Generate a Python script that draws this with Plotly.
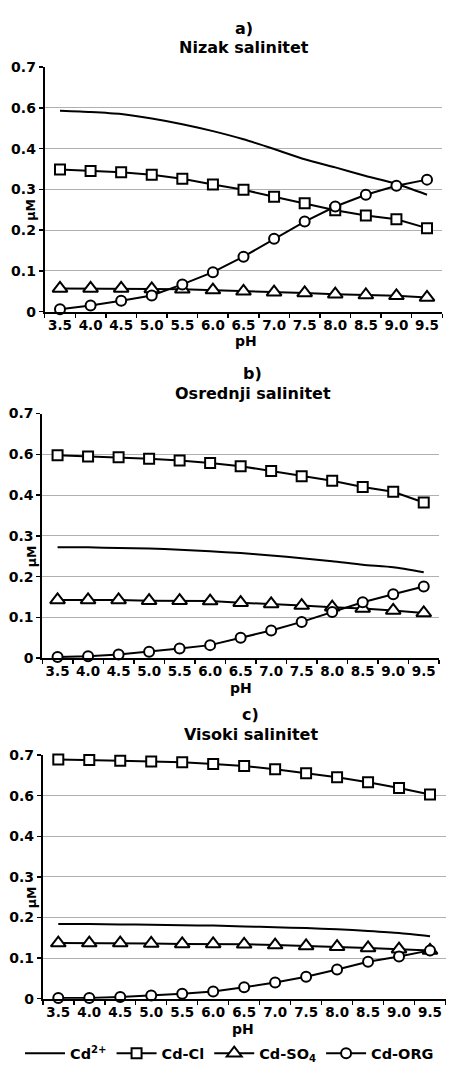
import numpy as np
import plotly.graph_objects as go

# ---------------- data ----------------
pH = [3.5, 4.0, 4.5, 5.0, 5.5, 6.0, 6.5, 7.0, 7.5, 8.0, 8.5, 9.0, 9.5]

# y-axis tick labels as printed (evenly spaced gridlines, no 0.5)
y_tick_labels = [0, 0.1, 0.2, 0.3, 0.4, 0.6, 0.7]
y_tick_text = ["0", "0.1", "0.2", "0.3", "0.4", "0.6", "0.7"]

series_names = ["Cd<sup>2+</sup>", "Cd-Cl", "Cd-SO<sub>4</sub>", "Cd-ORG"]
panel_titles = ["a)", "b)", "c)"]
panel_subtitles = ["Nizak salinitet", "Osrednji salinitet", "Visoki salinitet"]

a_cd2 = [0.586, 0.580, 0.570, 0.548, 0.520, 0.486, 0.446, 0.399, 0.374, 0.354, 0.333, 0.314, 0.287]
a_cdcl = [0.349, 0.345, 0.342, 0.336, 0.326, 0.312, 0.299, 0.282, 0.266, 0.249, 0.236, 0.227, 0.205]
a_cdso4 = [0.057, 0.057, 0.057, 0.056, 0.055, 0.053, 0.050, 0.048, 0.046, 0.043, 0.041, 0.039, 0.035]
a_cdorg = [0.006, 0.015, 0.027, 0.040, 0.067, 0.097, 0.135, 0.179, 0.221, 0.258, 0.287, 0.309, 0.324]

b_cd2 = [0.272, 0.272, 0.270, 0.269, 0.266, 0.262, 0.258, 0.252, 0.245, 0.238, 0.229, 0.223, 0.211]
b_cdcl = [0.595, 0.590, 0.586, 0.578, 0.570, 0.558, 0.542, 0.518, 0.492, 0.470, 0.440, 0.416, 0.382]
b_cdso4 = [0.143, 0.143, 0.143, 0.141, 0.141, 0.140, 0.136, 0.133, 0.129, 0.125, 0.122, 0.117, 0.111]
b_cdorg = [0.003, 0.005, 0.009, 0.016, 0.024, 0.032, 0.050, 0.068, 0.089, 0.113, 0.137, 0.157, 0.176]

c_cd2 = [0.184, 0.184, 0.183, 0.182, 0.181, 0.180, 0.178, 0.176, 0.174, 0.171, 0.167, 0.162, 0.154]
c_cdcl = [0.689, 0.688, 0.686, 0.684, 0.682, 0.678, 0.673, 0.665, 0.655, 0.645, 0.633, 0.619, 0.603]
c_cdso4 = [0.137, 0.137, 0.137, 0.136, 0.135, 0.135, 0.134, 0.132, 0.130, 0.128, 0.125, 0.122, 0.119]
c_cdorg = [0.002, 0.002, 0.004, 0.008, 0.012, 0.018, 0.028, 0.040, 0.054, 0.072, 0.091, 0.104, 0.119]

panels = [
    [a_cd2, a_cdcl, a_cdso4, a_cdorg],
    [b_cd2, b_cdcl, b_cdso4, b_cdorg],
    [c_cd2, c_cdcl, c_cdso4, c_cdorg],
]

# ---------------- layout geometry ----------------
W, H = 450, 1075
FONT = "DejaVu Sans"
tick_pos = list(range(len(y_tick_labels)))


def to_axis(vals):
    # the printed axis has evenly spaced gridlines labelled 0..0.4, 0.6, 0.7
    return np.interp(vals, y_tick_labels, tick_pos)


def py(px):
    return 1 - px / H


# pixel geometry of each plot area: (left, right, top, bottom)
areas = [
    (44.7, 442.3, 60.0, 308.3),
    (42.3, 439.0, 411.7, 660.0),
    (42.8, 445.5, 758.3, 1005.7),
]
title_pos = [  # (x center, y of "a)", y of subtitle)
    (244.0, 20.5, 40.0),
    (252.5, 371.0, 391.0),
    (250.8, 717.5, 737.5),
]
ph_pos = [(246.0, 338.0), (241.0, 690.0), (242.5, 1036.0)]

styles = [
    dict(mode="lines", line=dict(color="black", width=2, shape="spline", smoothing=0.6)),
    dict(mode="lines+markers", line=dict(color="black", width=2),
         marker=dict(symbol="square", size=10, color="white", line=dict(color="black", width=2))),
    dict(mode="lines+markers", line=dict(color="black", width=2),
         marker=dict(symbol="triangle-up", size=13, color="white", line=dict(color="black", width=2))),
    dict(mode="lines+markers", line=dict(color="black", width=2),
         marker=dict(symbol="circle", size=10, color="white", line=dict(color="black", width=2))),
]

fig = go.Figure()
annotations = []
layout_axes = {}

for p, series in enumerate(panels):
    xa = "x" if p == 0 else f"x{p+1}"
    ya = "y" if p == 0 else f"y{p+1}"
    for s, vals in enumerate(series):
        fig.add_trace(go.Scatter(
            x=pH, y=to_axis(vals), name=series_names[s],
            xaxis=xa, yaxis=ya, showlegend=(p == 0), cliponaxis=False,
            hoverinfo="skip", **styles[s]))
    l, r, t, b = areas[p]
    xkey = "xaxis" if p == 0 else f"xaxis{p+1}"
    ykey = "yaxis" if p == 0 else f"yaxis{p+1}"
    layout_axes[xkey] = dict(
        domain=[l / W, r / W], anchor=ya, range=[3.25, 9.75],
        tickvals=pH, ticktext=[f"{v:.1f}" for v in pH],
        ticks="", showgrid=False, zeroline=False,
        showline=True, linecolor="black", linewidth=2,
        tickfont=dict(family=FONT, size=13.5, color="black", weight="bold"),
        minor=dict(ticks="outside", ticklen=4, tickcolor="black", tickwidth=1.5,
                   tickvals=[3.25 + 0.5 * i for i in range(14)], showgrid=False),
        fixedrange=True,
    )
    layout_axes[ykey] = dict(
        domain=[py(b), py(t)], anchor=xa, range=[0, len(tick_pos) - 1],
        tickvals=tick_pos, ticktext=y_tick_text,
        ticks="outside", ticklen=4, tickcolor="black", tickwidth=1.5,
        showgrid=True, gridcolor="#b0b0b0", gridwidth=1, zeroline=False,
        showline=True, linecolor="black", linewidth=2,
        tickfont=dict(family=FONT, size=14, color="black", weight="bold"),
        fixedrange=True,
    )
    tx, ty1, ty2 = title_pos[p]
    annotations.append(dict(text=panel_titles[p], xref="paper", yref="paper",
                            x=tx / W, y=py(ty1), xanchor="center", yanchor="middle",
                            showarrow=False,
                            font=dict(family=FONT, size=16, color="black", weight="bold")))
    annotations.append(dict(text=panel_subtitles[p], xref="paper", yref="paper",
                            x=tx / W, y=py(ty2), xanchor="center", yanchor="middle",
                            showarrow=False,
                            font=dict(family=FONT, size=16, color="black", weight="bold")))
    phx, phy = ph_pos[p]
    annotations.append(dict(text="pH", xref="paper", yref="paper",
                            x=phx / W, y=py(phy), xanchor="center", yanchor="middle",
                            showarrow=False,
                            font=dict(family=FONT, size=14, color="black", weight="bold")))
    annotations.append(dict(text="µM", xref="paper", yref=ya,
                            x=31 / W, y=2.5, xanchor="center", yanchor="middle",
                            textangle=-90, showarrow=False,
                            font=dict(family=FONT, size=12.5, color="black", weight="bold")))

fig.update_layout(
    width=W, height=H,
    margin=dict(l=0, r=0, t=0, b=0),
    paper_bgcolor="white", plot_bgcolor="white",
    annotations=annotations,
    showlegend=True,
    legend=dict(orientation="h", x=0.51, xanchor="center", y=py(1061), yanchor="middle",
                font=dict(family=FONT, size=14.5, color="black", weight="bold"),
                itemwidth=40, tracegroupgap=0, bgcolor="rgba(0,0,0,0)"),
    **layout_axes,
)

fig.write_html(
    "out.html",
    config={"displayModeBar": False, "staticPlot": True},
    post_script="document.body.style.margin='0';document.body.style.padding='0';",
)
